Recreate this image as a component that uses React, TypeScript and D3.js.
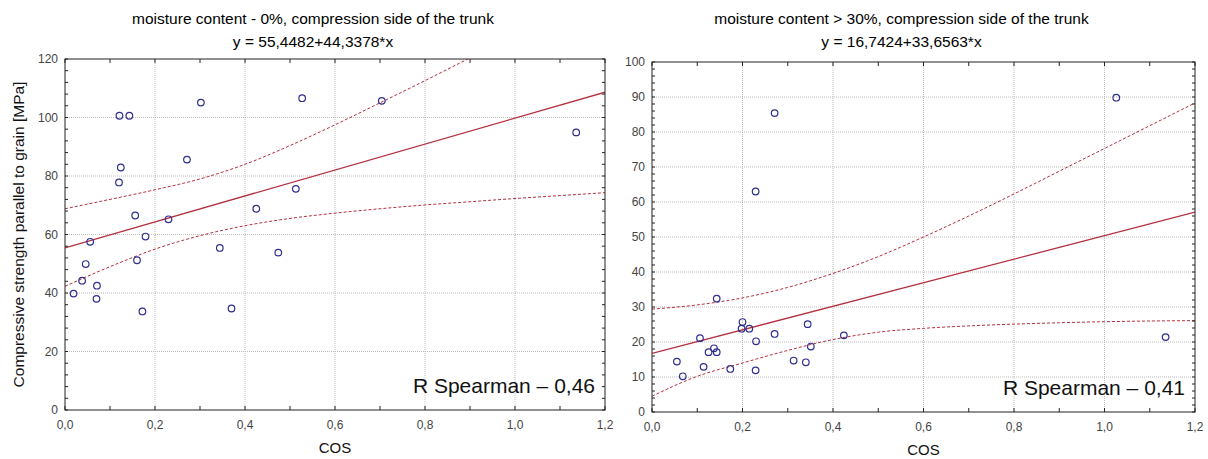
import React from 'react';
import * as d3 from 'd3';

const BAND_X = [0, 0.1, 0.2, 0.3, 0.4, 0.5, 0.6, 0.7, 0.8, 0.9, 1.0, 1.1, 1.2];

// moisture 0%
const DRY_COS = [0.121, 0.143, 0.302, 0.527, 0.124, 0.12, 0.271, 0.156, 0.23, 0.513, 0.425, 0.179, 0.056,
  0.704, 1.136, 0.046, 0.038, 0.071, 0.019, 0.07, 0.16, 0.172, 0.344, 0.37, 0.474];
const DRY_STRENGTH = [100.6, 100.6, 105.1, 106.6, 82.9, 77.8, 85.6, 66.5, 65.2, 75.6, 68.8, 59.3, 57.5,
  105.7, 94.9, 49.9, 44.2, 42.5, 39.8, 38.0, 51.2, 33.7, 55.4, 34.7, 53.8];
const DRY_REG = [55.45, 108.65]; // at cos 0 and 1.2
const DRY_UPPER = [68.8, 72.0, 75.3, 79.0, 84.0, 90.4, 97.5, 105.0, 112.6, 120.4, 128.3];
const DRY_LOWER = [42.3, 49.0, 55.0, 59.6, 63.0, 65.5, 67.3, 68.8, 70.1, 71.2, 72.3, 73.3, 74.3];

// moisture > 30%
const WET_COS = [0.143, 0.2, 0.198, 0.215, 0.106, 0.271, 0.344, 0.23, 0.424, 0.351, 0.125, 0.137, 0.143,
  0.114, 0.173, 0.229, 0.313, 0.34, 0.068, 0.055, 0.229, 0.271, 1.026, 1.135];
const WET_STRENGTH = [32.4, 25.7, 23.8, 23.8, 21.1, 22.3, 25.1, 20.2, 21.9, 18.7, 17.1, 18.2, 17.1,
  12.9, 12.3, 11.9, 14.7, 14.2, 10.2, 14.4, 63.0, 85.4, 89.8, 21.4];
const WET_REG = [16.74, 57.13];
const WET_UPPER = [29.4, 30.6, 32.6, 35.6, 39.6, 44.4, 50.0, 56.0, 62.3, 68.8, 75.3, 81.8, 88.3];
const WET_LOWER = [4.5, 10.2, 14.0, 17.6, 20.7, 22.8, 23.9, 24.6, 25.1, 25.5, 25.8, 26.0, 26.1];

const FONT = '"Liberation Sans", Arial, sans-serif';
const RED = '#b3303f';
const DOT = '#2f2f8f';

const fmtX = (v: number) => d3.format('.1f')(v).replace('.', ',');

function Panel(props: any) {
  const { id, left, right, top, bottom, yMax, yStep, yMinor, cos, strength, reg, upper, lower,
    title, equation, spearman, yLabel } = props;
  const x = d3.scaleLinear().domain([0, 1.2]).range([left, right]);
  const y = d3.scaleLinear().domain([0, yMax]).range([bottom, top]);
  const band = d3.line<number>()
    .x((d, i) => x(BAND_X[i]))
    .y(d => y(d))
    .curve(d3.curveMonotoneX);

  const xMajor = d3.range(0, 1.2001, 0.2);
  const xMinor = d3.range(0, 1.2001, 0.1);
  const yMaj = d3.range(0, yMax + 0.001, yStep);
  const yMin = d3.range(0, yMax + 0.001, yMinor);
  const cx = (left + right) / 2;
  const tc = cx - 22;

  return (
    <g fontFamily={FONT}>
      <defs>
        <clipPath id={id}>
          <rect x={left} y={top} width={right - left} height={bottom - top} />
        </clipPath>
      </defs>
      <text x={tc} y={24} textAnchor="middle" fontSize={15.5} fill="#000">{title}</text>
      <text x={tc} y={47} textAnchor="middle" fontSize={15.5} fill="#000">{equation}</text>

      {/* grid */}
      {xMajor.slice(1, -1).map(v => (
        <line key={'gx' + v} x1={x(v)} x2={x(v)} y1={top} y2={bottom}
          stroke="#bdbdbd" strokeDasharray="1,1" />
      ))}
      {yMaj.slice(1, -1).map(v => (
        <line key={'gy' + v} x1={left} x2={right} y1={y(v)} y2={y(v)}
          stroke="#bdbdbd" strokeDasharray="1,1" />
      ))}

      <g clipPath={`url(#${id})`}>
        <path d={band(upper) || ''} fill="none" stroke={RED} strokeWidth={1} strokeDasharray="3,2" />
        <path d={band(lower) || ''} fill="none" stroke={RED} strokeWidth={1} strokeDasharray="3,2" />
        <line x1={x(0)} y1={y(reg[0])} x2={x(1.2)} y2={y(reg[1])} stroke={RED} strokeWidth={1.3} />
        {cos.map((c: number, i: number) => (
          <circle key={i} cx={x(c)} cy={y(strength[i])} r={3.3} fill="none" stroke={DOT} strokeWidth={1.2} />
        ))}
      </g>

      {/* frame + inward ticks */}
      <rect x={left} y={top} width={right - left} height={bottom - top} fill="none" stroke="#222" strokeWidth={1} />
      {xMinor.map(v => (
        <g key={'tx' + v}>
          <line x1={x(v)} x2={x(v)} y1={bottom} y2={bottom - 4} stroke="#222" />
          <line x1={x(v)} x2={x(v)} y1={top} y2={top + 4} stroke="#222" />
        </g>
      ))}
      {yMin.map(v => (
        <g key={'ty' + v}>
          <line x1={left} x2={left + 3} y1={y(v)} y2={y(v)} stroke="#222" />
          <line x1={right} x2={right - 3} y1={y(v)} y2={y(v)} stroke="#222" />
        </g>
      ))}

      {xMajor.map(v => (
        <text key={'lx' + v} x={x(v)} y={bottom + 19} textAnchor="middle" fontSize={12} fill="#444">{fmtX(v)}</text>
      ))}
      {yMaj.map(v => (
        <text key={'ly' + v} x={left - 7} y={y(v)} dy="0.35em" textAnchor="end" fontSize={12} fill="#444">{v}</text>
      ))}

      <text x={cx} y={bottom + 43} textAnchor="middle" fontSize={15} fill="#111">COS</text>
      <text x={right - 10} y={bottom - 17} textAnchor="end" fontSize={21} fill="#111">{spearman}</text>

      {yLabel && (
        <text transform={`translate(24,${(top + bottom) / 2}) rotate(-90)`} textAnchor="middle"
          fontSize={15.5} fill="#111">{yLabel}</text>
      )}
    </g>
  );
}

export default function App() {
  return (
    <svg width={1208} height={459} style={{ position: 'absolute', left: 0, top: 0, background: '#fff' }}>
      <rect width={1208} height={459} fill="#fff" />
      <Panel id="clipDry" left={65} right={605} top={59} bottom={410} yMax={120} yStep={20} yMinor={4}
        cos={DRY_COS} strength={DRY_STRENGTH} reg={DRY_REG} upper={DRY_UPPER} lower={DRY_LOWER}
        title="moisture content - 0%, compression side of the trunk"
        equation="y = 55,4482+44,3378*x"
        spearman="R Spearman – 0,46"
        yLabel="Compressive strength parallel to grain [MPa]" />
      <Panel id="clipWet" left={652} right={1195} top={62} bottom={412} yMax={100} yStep={10} yMinor={2}
        cos={WET_COS} strength={WET_STRENGTH} reg={WET_REG} upper={WET_UPPER} lower={WET_LOWER}
        title="moisture content > 30%, compression side of the trunk"
        equation="y = 16,7424+33,6563*x"
        spearman="R Spearman – 0,41" />
    </svg>
  );
}
